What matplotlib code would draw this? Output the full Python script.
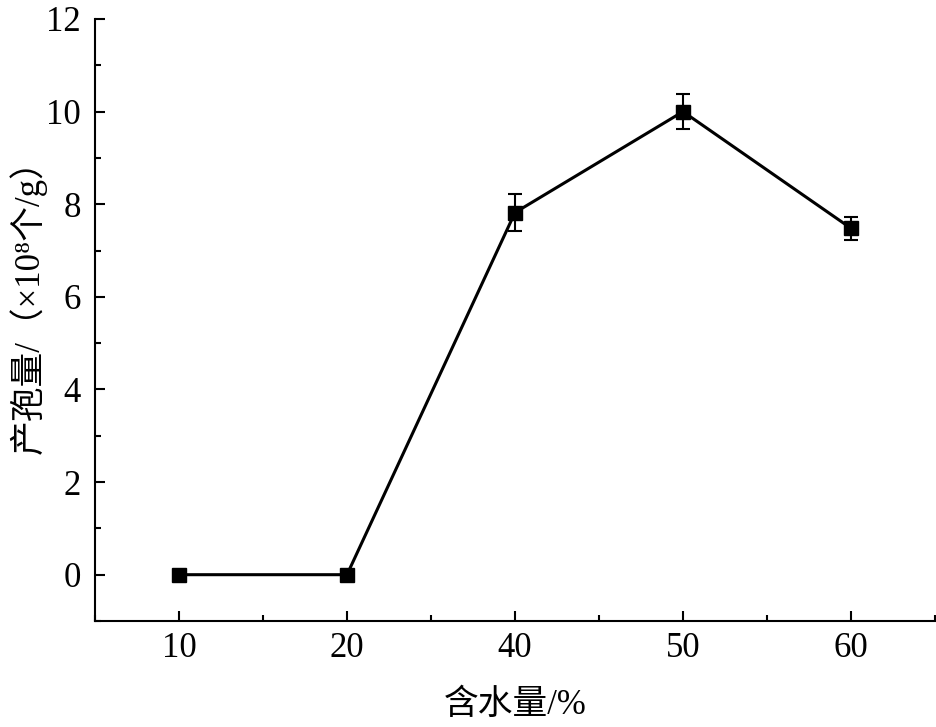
import matplotlib
matplotlib.use("Agg")
import matplotlib.pyplot as plt
from matplotlib.ticker import MultipleLocator

categories = ["10", "20", "40", "50", "60"]
values = [0.0, 0.0, 7.82, 10.0, 7.48]
errors = [0.0, 0.0, 0.40, 0.38, 0.25]

FONT = ["Liberation Serif", "Noto Sans CJK SC", "DejaVu Sans"]
plt.rcParams['font.family'] = FONT

fig = plt.figure(figsize=(9.36, 7.27), dpi=100)
ax = fig.add_axes([95/936, (727-621)/727, (935-95)/936, (621-19)/727])

x = list(range(len(categories)))
ax.errorbar(x, values, yerr=errors, color='black', lw=2.2, marker='s', ms=9.5,
            capsize=5, capthick=1.5, elinewidth=1.5)

ax.set_xlim(-0.5, 4.5)
ax.set_ylim(-1, 12)
ax.set_xticks(x)
ax.set_xticklabels(categories)
ax.xaxis.set_minor_locator(MultipleLocator(0.5))
ax.set_yticks([0, 2, 4, 6, 8, 10, 12])
ax.yaxis.set_minor_locator(MultipleLocator(1))

for s in ['top', 'right']:
    ax.spines[s].set_visible(False)
for s in ['left', 'bottom']:
    ax.spines[s].set_linewidth(1.5)

ax.tick_params(which='major', direction='in', length=7, width=1.5, labelsize=25, pad=8)
ax.tick_params(which='minor', direction='in', length=4, width=1.5)
ax.tick_params(axis='y', pad=10)

ax.set_xlabel("含水量/%", fontsize=25)
ax.set_ylabel("产孢量/（×10⁸个/g）", fontsize=25)
ax.yaxis.set_label_coords(-0.058, 0.537)
ax.xaxis.set_label_coords(0.5, -0.113)

fig.savefig("out.png", dpi=100)
